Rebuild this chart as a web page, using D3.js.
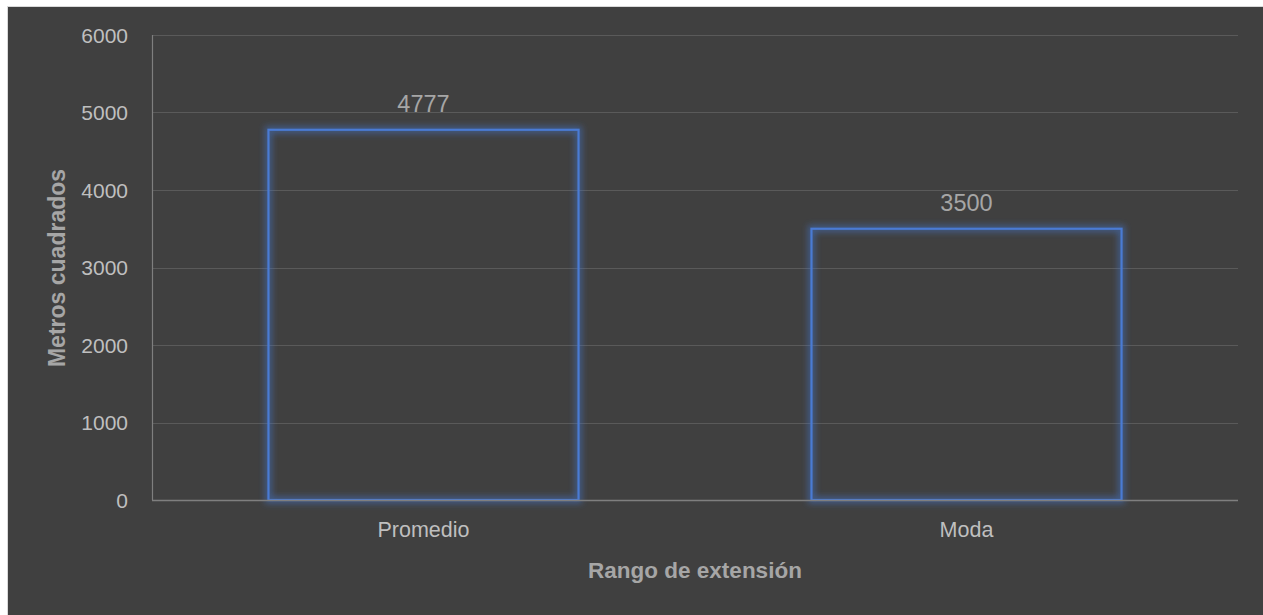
<!DOCTYPE html>
<html>
<head>
<meta charset="utf-8">
<script src="https://cdn.jsdelivr.net/npm/d3@7/dist/d3.min.js"></script>
<style>
  html, body { margin: 0; padding: 0; background: #ffffff; }
  svg { display: block; }
  text { font-family: "Liberation Sans", Arial, sans-serif; }
</style>
</head>
<body>
<svg id="chart" width="1263" height="615"></svg>
<script>
const categories = ["Promedio", "Moda"];
const values = [4777, 3500];
const yTicks = [0, 1000, 2000, 3000, 4000, 5000, 6000];
const yTitle = "Metros cuadrados";
const xTitle = "Rango de extensión";

const W = 1263, H = 615;
const margin = { left: 152, right: 25, top: 35, bottom: 115 };
const svg = d3.select("#chart");

// background
svg.append("rect").attr("x", 7.5).attr("y", 6.5).attr("width", W).attr("height", H)
  .attr("fill", "#404040").attr("stroke", "#d9d9d9").attr("stroke-width", 1);

const defs = svg.append("defs");
const f = defs.append("filter").attr("id", "glow").attr("x", "-10%").attr("y", "-10%").attr("width", "120%").attr("height", "120%");
f.append("feGaussianBlur").attr("stdDeviation", 3);

const x = d3.scaleBand().domain(categories).range([margin.left, W - margin.right])
  .paddingInner(0.429).paddingOuter(0.2145);
const y = d3.scaleLinear().domain([0, 6000]).range([H - margin.bottom, margin.top]);

// gridlines
svg.append("g").selectAll("line").data(yTicks.filter(d => d > 0)).join("line")
  .attr("x1", margin.left).attr("x2", W - margin.right)
  .attr("y1", d => Math.round(y(d)) + 0.5).attr("y2", d => Math.round(y(d)) + 0.5)
  .attr("stroke", "#5a5a5a").attr("stroke-width", 1.2);

// y axis
const yAxis = svg.append("g").attr("transform", `translate(${margin.left},0)`)
  .call(d3.axisLeft(y).tickValues(yTicks).tickSize(0).tickPadding(24).tickFormat(d3.format("d")));
yAxis.select(".domain").remove();
yAxis.selectAll("text").attr("fill", "#bfbfbf").style("font-size", "21px").attr("dy", "0.35em");

// left axis line
svg.append("line").attr("x1", margin.left + 0.5).attr("x2", margin.left + 0.5)
  .attr("y1", y(6000)).attr("y2", y(0)).attr("stroke", "#7f7f7f").attr("stroke-width", 1.2);

// bars glow
const bars = svg.append("g");
bars.selectAll("rect.glow").data(values).join("rect").attr("class", "glow")
  .attr("x", (d, i) => x(categories[i]))
  .attr("y", d => y(d))
  .attr("width", x.bandwidth())
  .attr("height", d => y(0) - y(d))
  .attr("fill", "none").attr("stroke", "#4472c4").attr("stroke-width", 7)
  .attr("stroke-opacity", 0.55).attr("filter", "url(#glow)");
bars.selectAll("rect.bar").data(values).join("rect").attr("class", "bar")
  .attr("x", (d, i) => x(categories[i]))
  .attr("y", d => y(d))
  .attr("width", x.bandwidth())
  .attr("height", d => y(0) - y(d))
  .attr("fill", "none").attr("stroke", "#4a7bd4").attr("stroke-width", 2.2);

// x axis
const xAxis = svg.append("g").attr("transform", `translate(0,${y(0)})`)
  .call(d3.axisBottom(x).tickSize(0).tickPadding(22));
xAxis.select(".domain").attr("stroke", "#7f7f7f").attr("stroke-width", 1.5)
  .attr("d", `M${margin.left},0.5H${W - margin.right}`);
xAxis.selectAll("text").attr("fill", "#bfbfbf").style("font-size", "21.5px");

// data labels
svg.append("g").selectAll("text").data(values).join("text")
  .attr("x", (d, i) => x(categories[i]) + x.bandwidth() / 2)
  .attr("y", d => y(d) - 18)
  .attr("text-anchor", "middle").attr("fill", "#a6a6a6")
  .style("font-size", "23.5px").text(d => d);

// axis titles
svg.append("text").attr("transform", `translate(65,268) rotate(-90)`)
  .attr("text-anchor", "middle").attr("fill", "#a6a6a6")
  .style("font-size", "23px").style("font-weight", "bold").text(yTitle);
svg.append("text").attr("x", 695).attr("y", 578)
  .attr("text-anchor", "middle").attr("fill", "#a6a6a6")
  .style("font-size", "22.5px").style("font-weight", "bold").text(xTitle);
</script>
</body>
</html>
